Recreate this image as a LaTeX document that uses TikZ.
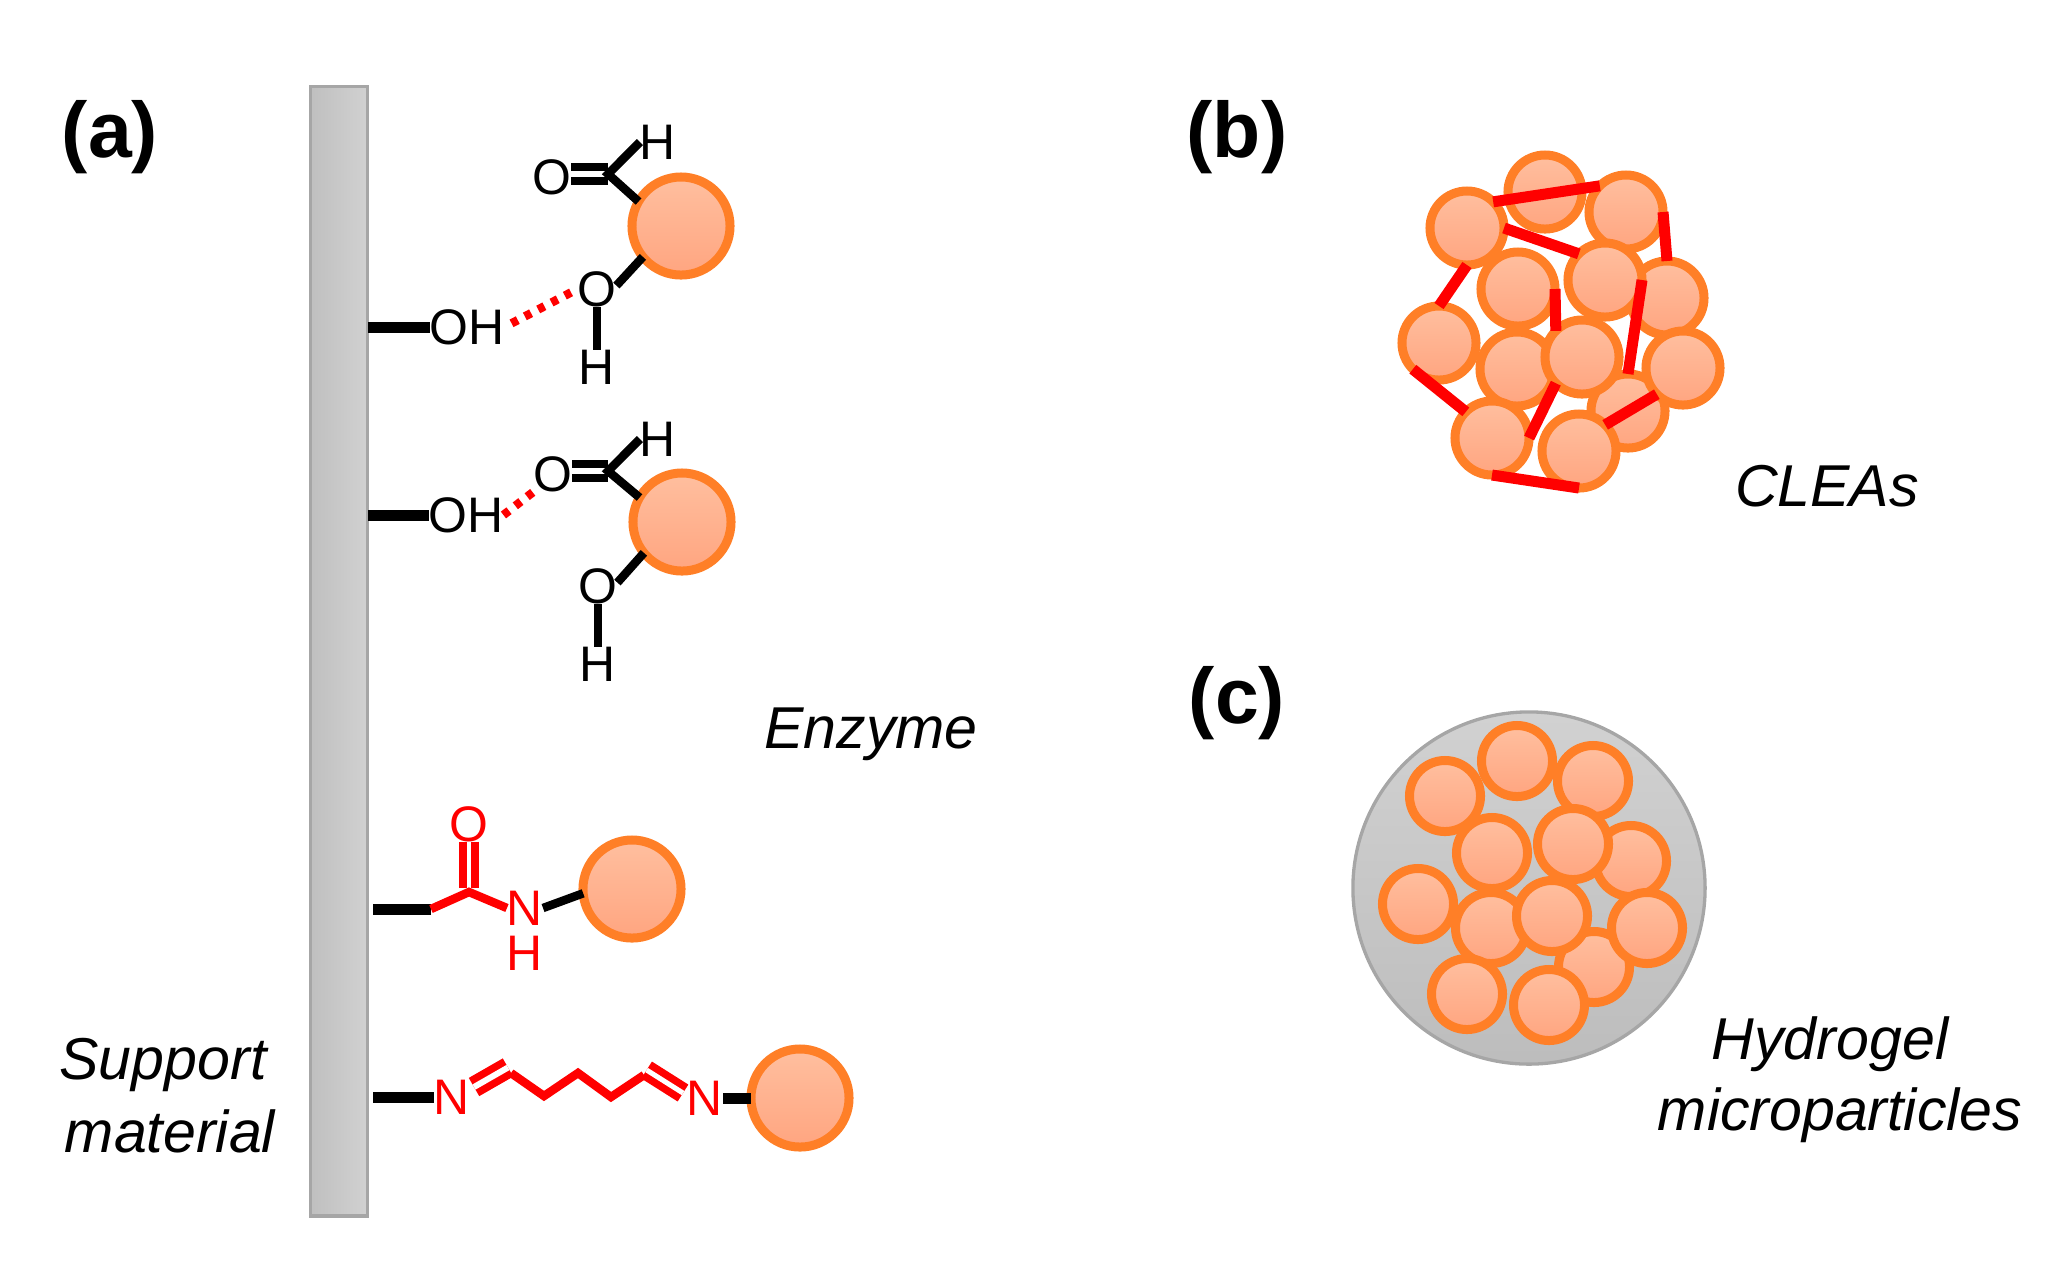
\documentclass[tikz,border=0pt]{standalone}
\usepackage{fontspec}
\setmainfont{Liberation Sans}
\usetikzlibrary{shapes,arrows}

\definecolor{ringorange}{HTML}{FF7F27}
\definecolor{enztop}{HTML}{FFBF9F}
\definecolor{enzbot}{HTML}{FFA580}
\definecolor{barline}{HTML}{A6A6A6}

\tikzset{
  atom/.style={font=\fontsize{14.2}{14.2}\selectfont,inner sep=0pt,outer sep=0pt},
  redatom/.style={atom,text=red},
  tag/.style={font=\fontsize{16.8}{16.8}\selectfont\itshape,inner sep=0pt},
  panel/.style={font=\fontsize{22.4}{22.4}\selectfont\bfseries,inner sep=0pt},
  enzyme/.style={circle,draw=ringorange,line width=0.09cm,top color=enztop,bottom color=enzbot,
    minimum size=0.98cm,inner sep=0pt,outer sep=0pt},
  clea/.style={enzyme,minimum size=0.74cm},
  gelbead/.style={enzyme,minimum size=0.71cm},
  bond/.style={line width=0.085cm},
  wallbond/.style={line width=0.11cm},
  dblbond/.style={line width=0.075cm,double,double distance=0.065cm},
  redbond/.style={line width=0.085cm,draw=red},
  hbond/.style={line width=0.085cm,draw=red,dash pattern=on 0.07cm off 0.08cm},
  link/.style={line width=0.11cm,draw=red}
}

\begin{document}
\begin{tikzpicture}[x=0.01cm,y=-0.01cm]
\useasboundingbox (0,0) rectangle (2072,1262);

\node [panel] (pa) at (110,137) {(a)};
\node [panel] (pb) at (1237,137) {(b)};
\node [panel] (pc) at (1237,703) {(c)};

\node [rectangle,draw=barline,line width=0.033cm,left color=black!25,right color=black!18,
  minimum width=0.57cm,minimum height=11.29cm,inner sep=0pt,outer sep=0pt] (bar) at (339,651) {};

% first enzyme
\node [enzyme] (e1) at (681,226) {};
\node [atom] (oh1) at (467,327) {OH};
\node [atom] (o1) at (552,177) {O};
\node [atom] (h1) at (658,142) {H};
\node [atom] (o2) at (597,289) {O};
\node [atom] (h2) at (597,367) {H};
\coordinate (c1) at (608,174);

\draw [wallbond] (oh1.west) -- (oh1.west -| bar.east);
\draw [dblbond] (o1.east |- c1) -- (c1);
\draw [bond] (h1.west) -- (c1) -- (e1.150);
\draw [bond] (o2.10) -- (e1.219);
\draw [bond] (o2) -- (h2);
\draw [hbond,shorten <=0.08cm,shorten >=0.05cm] (oh1.east) -- (o2.west);

% second enzyme
\node [enzyme] (e2) at (682,522) {};
\node [atom] (oh2) at (466,515) {OH};
\node [atom] (o3) at (553,474) {O};
\node [atom] (h3) at (658,439) {H};
\node [atom] (o4) at (598,586) {O};
\node [atom] (h4) at (598,664) {H};
\coordinate (c2) at (608,471);

\draw [wallbond] (oh2.west) -- (oh2.west -| bar.east);
\draw [dblbond] (o3.east |- c2) -- (c2);
\draw [bond] (h3.west) -- (c2) -- (e2.150);
\draw [bond] (o4.10) -- (e2.219);
\draw [bond] (o4) -- (h4);
\draw [hbond] (oh2.east) -- (o3.south west);

% amide
\node [enzyme] (e3) at (632,889) {};
\node [redatom] (o5) at (469,824) {O};
\node [redatom] (n1) at (525,908) {N};
\node [redatom] (h5) at (525,953) {H};
\coordinate (k1) at (431,909);
\coordinate (c3) at (469,892);

\draw [wallbond,shorten >=0.05cm] (k1) -- (k1 -| bar.east);
\draw [dblbond,draw=red,double distance=0.04cm,line width=0.08cm,shorten >=0.04cm] (o5) -- (c3);
\draw [redbond] (k1) -- (c3) -- (n1.west);
\draw [bond] (n1.east) -- (e3.185);

% imine chain
\node [enzyme] (e4) at (800,1098) {};
\node [redatom] (n2) at (452,1097) {N};
\node [redatom] (n3) at (705,1098) {N};
\coordinate (d1) at (474,1087);
\coordinate (d2) at (508,1067.5);
\coordinate (d3) at (646.6,1070);
\coordinate (d4) at (683,1093);
\coordinate (z1) at (511,1073);
\coordinate (z2) at (544,1096);
\coordinate (z3) at (578,1073);
\coordinate (z4) at (611,1097);
\coordinate (z5) at (644,1075);

\draw [wallbond,shorten >=0.05cm] (n2.west) -- (n2.west -| bar.east);
\draw [dblbond,draw=red,double distance=0.06cm] (d1) -- (d2);
\draw [dblbond,draw=red,double distance=0.05cm] (d3) -- (d4);
\draw [redbond] (z1) -- (z2) -- (z3) -- (z4) -- (z5);
\draw [wallbond] (n3.east) -- (e4.west);

\node [tag] (v1) at (871,734) {Enzyme};
\node [tag] (v2) at (163,1065) {Support};
\node [tag] (v3) at (170,1131) {material};

% CLEAs
\node [clea] (a1) at (1545,192) {};
\node [clea] (a2) at (1626,212) {};
\node [clea] (a3) at (1467,228) {};
\node [clea] (a4) at (1667,298) {};
\node [clea] (a5) at (1518,289) {};
\node [clea] (a6) at (1605,280) {};
\node [clea] (a7) at (1628,411) {};
\node [clea] (a8) at (1439,343) {};
\node [clea] (a9) at (1517,369) {};
\node [clea] (a10) at (1582,357) {};
\node [clea] (a11) at (1683,368) {};
\node [clea] (a12) at (1492,438) {};
\node [clea] (a13) at (1579,451) {};

\draw [link] (a3.45) -- (a2.135);
\draw [link] (a3.0) -- (a6.135);
\draw [link] (a2.0) -- (a4.90);
\draw [link] (a3.270) -- (a8.90);
\draw [link] (a5.0) -- (a10.135);
\draw [link] (a6.0) -- (a7.90);
\draw [link] (a8.225) -- (a12.135);
\draw [link] (a10.225) -- (a12.0);
\draw [link] (a11.225) -- (a13.45);
\draw [link] (a12.270) -- (a13.270);

\node [tag] (v4) at (1827,486) {CLEAs};

% hydrogel
\node [circle,draw=barline,line width=0.033cm,top color=black!18,bottom color=black!26,
  minimum size=3.52cm,inner sep=0pt] (gel) at (1529,888) {};
\node [gelbead] (b1) at (1517,761) {};
\node [gelbead] (b2) at (1593,781) {};
\node [gelbead] (b3) at (1445,796) {};
\node [gelbead] (b4) at (1631,861) {};
\node [gelbead] (b5) at (1492,853) {};
\node [gelbead] (b6) at (1573,844) {};
\node [gelbead] (b7) at (1594,967) {};
\node [gelbead] (b8) at (1418,904) {};
\node [gelbead] (b9) at (1491,928) {};
\node [gelbead] (b10) at (1552,916) {};
\node [gelbead] (b11) at (1647,928) {};
\node [gelbead] (b12) at (1467,994) {};
\node [gelbead] (b13) at (1549,1005) {};

\node [tag] (v5) at (1830,1044) {Hydrogel};
\node [tag] (v6) at (1840,1115) {microparticles};
\end{tikzpicture}
\end{document}
